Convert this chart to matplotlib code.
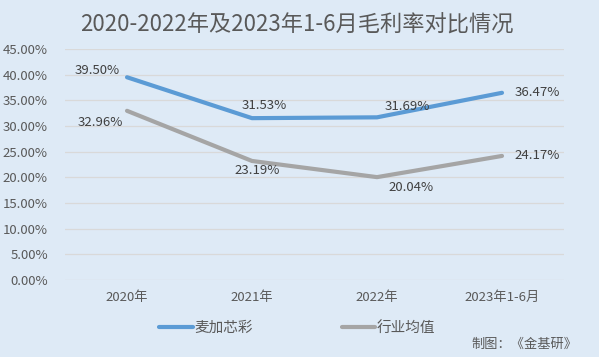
import matplotlib
matplotlib.use("Agg")
import matplotlib.pyplot as plt
from matplotlib.ticker import FuncFormatter

plt.rcParams['font.family'] = ['Noto Sans CJK SC', 'DejaVu Sans']

categories = ["2020年", "2021年", "2022年", "2023年1-6月"]
company = [39.50, 31.53, 31.69, 36.47]
industry = [32.96, 23.19, 20.04, 24.17]
series_names = ["麦加芯彩", "行业均值"]
title = "2020-2022年及2023年1-6月毛利率对比情况"
source = "制图：《金基研》"

bg = "#DEEAF6"
blue = "#5B9BD5"
gray = "#A5A5A5"
txt = "#595959"

fig = plt.figure(figsize=(5.99, 3.57), dpi=100, facecolor=bg)
ax = fig.add_axes([0.1077, 0.2157, 0.8347, 0.647], facecolor=bg)

x = list(range(len(categories)))
ax.plot(x, company, color=blue, lw=3, solid_capstyle='round', label=series_names[0], zorder=3)
ax.plot(x, industry, color=gray, lw=3, solid_capstyle='round', label=series_names[1], zorder=3)

ax.set_xlim(-0.5, len(categories) - 0.5)
ax.set_ylim(0, 45)
ax.set_yticks([i * 5 for i in range(10)])
ax.yaxis.set_major_formatter(FuncFormatter(lambda v, p: f"{v:.2f}%"))
ax.set_xticks(x)
ax.set_xticklabels(categories)
ax.tick_params(axis='both', length=0, labelsize=9.5, labelcolor=txt)
ax.tick_params(axis='x', pad=8)
ax.tick_params(axis='y', pad=12)
ax.grid(axis='y', color="#D9D9D9", lw=0.9)
ax.set_axisbelow(True)
for s in ax.spines.values():
    s.set_visible(False)

comp_off = [(-30, 7), (12, 13), (30, 11), (35, 0)]
ind_off = [(-27, -12), (5, -10), (34, -10), (35, 0)]
for i, v in enumerate(company):
    ax.annotate(f"{v:.2f}%", (x[i], v), xytext=comp_off[i], textcoords='offset pixels',
                ha='center', va='center', fontsize=9.5, color="#404040", zorder=4)
for i, v in enumerate(industry):
    ax.annotate(f"{v:.2f}%", (x[i], v), xytext=ind_off[i], textcoords='offset pixels',
                ha='center', va='center', fontsize=9.5, color="#404040", zorder=4)

fig.text(0.496, 1 - 25 / 357, title, ha='center', va='center', fontsize=16, color=txt)

leg = fig.legend(loc='center', bbox_to_anchor=(0.496, 0.081), ncol=2, frameon=False,
                 fontsize=10.5, handlelength=2.3, handletextpad=0.1, columnspacing=6.1)
for t in leg.get_texts():
    t.set_color(txt)

fig.text(1 - 22 / 599, 1 - 344 / 357, source, ha='right', va='center', fontsize=9.5, color=txt)

fig.savefig("out.png", dpi=100, facecolor=bg)
